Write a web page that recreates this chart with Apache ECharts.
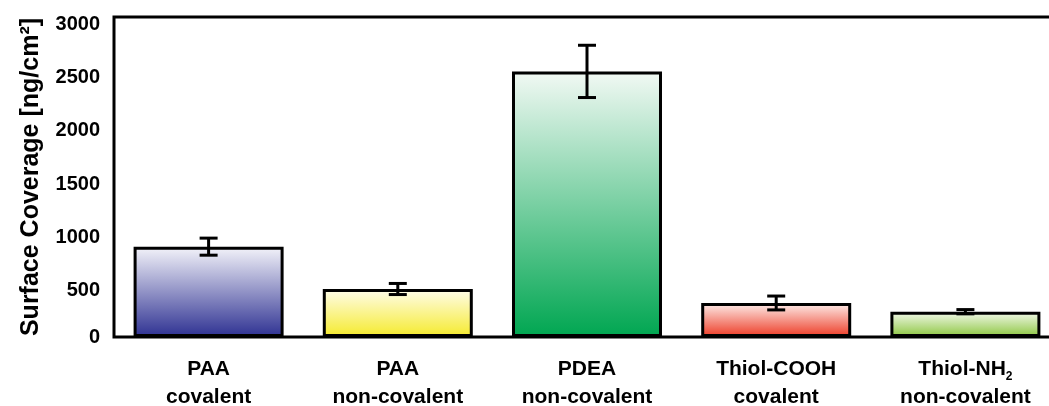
<!DOCTYPE html>
<html>
<head>
<meta charset="utf-8">
<script src="https://cdn.jsdelivr.net/npm/echarts@6/dist/echarts.min.js"></script>
<style>
  html, body { margin: 0; padding: 0; background: #fff; }
  #chart { width: 1049px; height: 406px; }
</style>
</head>
<body>
<div id="chart"></div>
<script>
// surface coverage per film type (ng/cm2)
var groups = ['PAA', 'PAA', 'PDEA', 'Thiol-COOH', 'Thiol-NH2'];
var modes = ['covalent', 'non-covalent', 'non-covalent', 'covalent', 'non-covalent'];
var coverage = [847, 450, 2490, 319, 237];
var errors = [80, 52, 245, 65, 20];
var yTicks = [0, 500, 1000, 1500, 2000, 2500, 3000];

// top / bottom colours of each bar gradient
var topColors = ['#f4f4fa', '#fffdec', '#f2f9f4', '#fdeeeb', '#f3f9ec'];
var bottomColors = ['#2e3192', '#f5ea2c', '#00a651', '#ed3a24', '#8cc63f'];

var chart = echarts.init(document.getElementById('chart'));

var categories = groups.map(function (g, i) { return g + '\n' + modes[i]; });

var barData = coverage.map(function (v, i) {
    return {
        value: v,
        itemStyle: {
            color: new echarts.graphic.LinearGradient(0, 0, 0, 1, [
                { offset: 0, color: topColors[i] },
                { offset: 1, color: bottomColors[i] }
            ])
        }
    };
});

var errData = coverage.map(function (v, i) {
    return [i, v - errors[i], v + errors[i]];
});

var options = {
    animation: false,
    grid: {
        left: 114,
        width: 946,
        top: 17,
        bottom: 69,
        outerBoundsMode: 'none',
        containLabel: false,
        show: true,
        borderColor: '#000',
        borderWidth: 3,
        backgroundColor: 'transparent'
    },
    xAxis: {
        type: 'category',
        data: categories,
        axisLine: { show: false },
        axisTick: { show: false },
        axisLabel: {
            margin: 18,
            color: '#000',
            fontFamily: 'Liberation Sans, Arial, sans-serif',
            fontWeight: 'bold',
            fontSize: 21,
            lineHeight: 28,
            formatter: function (v) {
                return v.replace('NH2', 'NH{s|2}');
            },
            rich: {
                s: {
                    fontSize: 12,
                    fontWeight: 'bold',
                    fontFamily: 'Liberation Sans, Arial, sans-serif',
                    color: '#000',
                    verticalAlign: 'bottom',
                    lineHeight: 14
                }
            }
        }
    },
    yAxis: {
        type: 'value',
        min: 0,
        max: 3000,
        interval: 500,
        name: 'Surface Coverage [ng/cm²]',
        nameLocation: 'middle',
        nameGap: 70,
        nameTextStyle: {
            color: '#000',
            fontFamily: 'Liberation Sans, Arial, sans-serif',
            fontWeight: 'bold',
            fontSize: 25
        },
        splitLine: { show: false },
        axisLine: { show: false },
        axisTick: { show: false },
        axisLabel: {
            margin: 14,
            color: '#000',
            fontFamily: 'Liberation Sans, Arial, sans-serif',
            fontWeight: 'bold',
            fontSize: 20,
            formatter: function (v) {
                if (yTicks.indexOf(v) < 0) return '';
                return v === 0 ? '{z|0}' : '{n|' + v + '}';
            },
            rich: {
                z: {},
                n: { padding: [14, 0, 0, 0] }
            }
        }
    },
    series: [
        {
            type: 'bar',
            data: barData,
            barWidth: 150,
            itemStyle: {
                borderColor: '#000',
                borderWidth: 3
            }
        },
        {
            type: 'custom',
            data: errData,
            z: 10,
            renderItem: function (params, api) {
                var x = api.value(0);
                var lo = api.coord([x, api.value(1)]);
                var hi = api.coord([x, api.value(2)]);
                var cap = 9;
                var style = { stroke: '#000', lineWidth: 3 };
                return {
                    type: 'group',
                    children: [
                        { type: 'line', shape: { x1: lo[0], y1: lo[1], x2: hi[0], y2: hi[1] }, style: style },
                        { type: 'line', shape: { x1: hi[0] - cap, y1: hi[1], x2: hi[0] + cap, y2: hi[1] }, style: style },
                        { type: 'line', shape: { x1: lo[0] - cap, y1: lo[1], x2: lo[0] + cap, y2: lo[1] }, style: style }
                    ]
                };
            }
        }
    ]
};

chart.setOption(options);
</script>
</body>
</html>
